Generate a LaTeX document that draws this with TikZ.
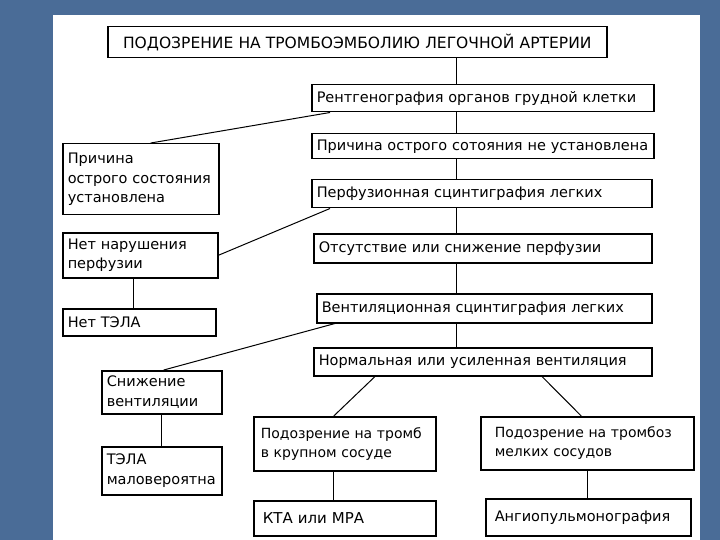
\documentclass[tikz,border=0pt]{standalone}
\usepackage{fontspec}
\setmainfont{DejaVu Sans}
\usetikzlibrary{positioning}
\definecolor{slide}{HTML}{4A6C97}
\tikzset{
  box/.style={draw, line width=1.5pt, fill=white, anchor=north west, inner xsep=5pt,
              inner ysep=2pt, align=left, font=\fontsize{14.5}{19.5}\selectfont},
  small/.style={font=\fontsize{14}{19}\selectfont},
  lnk/.style={line width=1pt}
}

\begin{document}
\begin{tikzpicture}[x=1pt, y=-1pt]
  \fill[slide] (0,0) rectangle (720,540);
  \fill[white] (53,15) rectangle (700,540);
  \coordinate (spine) at (456,0);
  % main column
  \node[box, text width=489pt, minimum height=31pt, align=center, font=\fontsize{15.5}{19}\selectfont] (susp) at (107,26) {ПОДОЗРЕНИЕ НА ТРОМБОЭМБОЛИЮ ЛЕГОЧНОЙ АРТЕРИИ};
  \node[box, text width=332pt, minimum height=27pt] (rg) at (311,84) {Рентгенография органов грудной клетки};
  \node[box, text width=332pt, minimum height=25pt] (npr) at (311,133) {Причина острого сотояния не установлена};
  \node[box, text width=330pt, minimum height=28pt] (perf) at (311,179) {Перфузионная сцинтиграфия легких};
  \node[box, text width=328pt, minimum height=29pt] (ots) at (313,233) {Отсутствие или снижение перфузии};
  \node[box, text width=325pt, minimum height=29pt] (vent) at (316,293) {Вентиляционная сцинтиграфия легких};
  \node[box, text width=328pt, minimum height=28pt] (norm) at (313,347) {Нормальная или усиленная вентиляция};
  % left column
  \node[box, text width=146pt, minimum height=71pt] (pr) at (62,143) {Причина\\острого состояния\\установлена};
  \node[box, text width=145pt, minimum height=45pt] (nn) at (62,232) {Нет нарушения\\перфузии};
  \node[box, text width=143pt, minimum height=27pt] (nt) at (62,308) {Нет ТЭЛА};
  \node[box, text width=110pt, minimum height=43pt] (snv) at (101,370) {Снижение\\вентиляции};
  \node[box, text width=110pt, minimum height=48pt] (tmal) at (101,446) {ТЭЛА\\маловероятна};
  % bottom
  \node[box, small, inner xsep=7pt, text width=168pt, minimum height=54pt] (tk) at (253,416) {Подозрение на тромб\\в крупном сосуде};
  \node[box, small, inner xsep=14pt, text width=185pt, minimum height=53pt] (tm) at (480,416) {Подозрение на тромбоз\\мелких сосудов};
  \node[box, inner xsep=9pt, text width=164pt, minimum height=35pt, font=\fontsize{15}{19}\selectfont] (kta) at (253,500) {КТА или МРА};
  \node[box, inner xsep=9pt, text width=187pt, minimum height=37pt] (ang) at (485,498) {Ангиопульмонография};

  \draw[lnk] (susp.south -| spine) -- (rg.north -| spine);
  \draw[lnk] (rg.south -| spine) -- (npr.north -| spine);
  \draw[lnk] ([xshift=19pt]rg.south west) -- ([xshift=10pt]pr.north);
  \draw[lnk] (npr.south -| spine) -- (perf.north -| spine);
  \draw[lnk] ([xshift=19pt]perf.south west) -- (nn.east);
  \draw[lnk] (perf.south -| spine) -- (ots.north -| spine);
  \draw[lnk] ([xshift=-7pt]nn.south) -- ([xshift=-7pt]nn.south |- nt.north);
  \draw[lnk] (ots.south -| spine) -- (vent.north -| spine);
  \draw[lnk] ([xshift=19pt]vent.south west) -- ([xshift=2pt]snv.north);
  \draw[lnk] (vent.south -| spine) -- (norm.north -| spine);
  \draw[lnk] ([xshift=62pt]norm.south west) -- ([xshift=-11pt]tk.north);
  \draw[lnk] ([xshift=229pt]norm.south west) -- ([xshift=-6pt]tm.north);
  \draw[lnk] (snv.south) -- (tmal.north);
  \draw[lnk] ([xshift=-11pt]tk.south) -- ([xshift=-11pt]tk.south |- kta.north);
  \draw[lnk] (tm.south) -- (tm.south |- ang.north);
\end{tikzpicture}
\end{document}
